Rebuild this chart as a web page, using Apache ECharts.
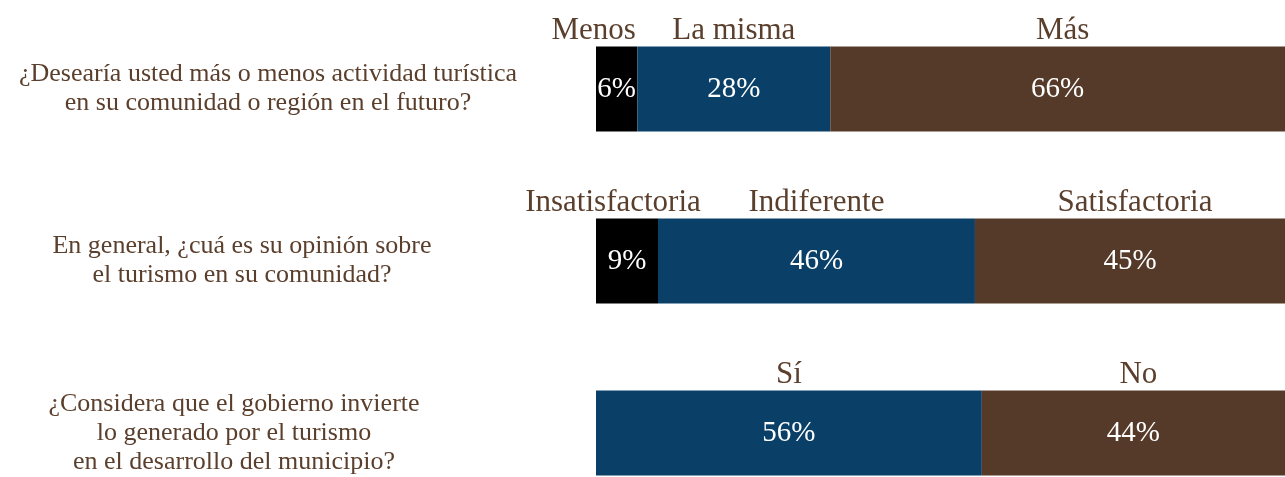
<!DOCTYPE html>
<html>
<head>
<meta charset="utf-8">
<script src="https://cdn.jsdelivr.net/npm/echarts@6/dist/echarts.min.js"></script>
<style>
  html, body { margin: 0; padding: 0; background: #fff; }
  #chart { width: 1285px; height: 477px; }
</style>
</head>
<body>
<div id="chart"></div>
<script>
// preguntas (eje y)
const questions = [
    '¿Desearía usted más o menos actividad turística\nen su comunidad o región en el futuro?',
    'En general, ¿cuá es su opinión sobre\nel turismo en su comunidad?',
    '¿Considera que el gobierno invierte\nlo generado por el turismo\nen el desarrollo del municipio?'
]
// porcentajes por segmento
const seg1 = [6, 9, '-']
const seg2 = [28, 46, 56]
const seg3 = [66, 45, 44]
// rótulos encima de cada segmento
const head1 = ['Menos', 'Insatisfactoria', '']
const head2 = ['La misma', 'Indiferente', 'Sí']
const head3 = ['Más', 'Satisfactoria', 'No']

const font = 'Liberation Serif'
const textColor = '#5b3f2d'
const colors = ['#000000', '#0a4068', '#553a29']

const chart = echarts.init(document.getElementById('chart'))

function barSeries(name, values, color) {
    return {
        name: name,
        type: 'bar',
        stack: 'val',
        barWidth: 85,
        barGap: '-100%',
        data: values,
        itemStyle: { color: color },
        label: {
            show: true,
            position: 'inside',
            color: '#fff',
            fontFamily: font,
            fontSize: 29,
            formatter: (p) => p.value + '%'
        },
        silent: true
    }
}

function headSeries(name, values, heads, offsets) {
    return {
        name: name,
        type: 'bar',
        stack: 'head',
        barWidth: 85,
        barGap: '-100%',
        data: values.map((v, i) => ({
            value: v,
            label: { offset: offsets[i] }
        })),
        itemStyle: { color: 'rgba(0,0,0,0)' },
        label: {
            show: true,
            position: 'top',
            distance: 0,
            color: textColor,
            fontFamily: font,
            fontSize: 31,
            formatter: (p) => heads[p.dataIndex]
        },
        silent: true
    }
}

const option = {
    animation: false,
    grid: {
        left: 596,
        right: 0,
        top: 3,
        height: 516,
        outerBoundsMode: 'none'
    },
    xAxis: {
        type: 'value',
        min: 0,
        max: 100,
        show: false
    },
    yAxis: {
        type: 'category',
        inverse: true,
        data: questions,
        axisLine: { show: false },
        axisTick: { show: false },
        axisLabel: {
            align: 'center',
            margin: 328,
            formatter: (value, idx) => value.split('\n').map(l => '{q' + idx + '|' + l + '}').join('\n'),
            rich: {
                q0: { fontFamily: font, fontSize: 26, color: textColor, lineHeight: 29, padding: [0, 0, 0, 0] },
                q1: { fontFamily: font, fontSize: 26, color: textColor, lineHeight: 29, padding: [0, 52, 0, 0] },
                q2: { fontFamily: font, fontSize: 26, color: textColor, lineHeight: 29, padding: [0, 68, 0, 0] }
            }
        }
    },
    series: [
        barSeries('seg1', seg1, colors[0]),
        barSeries('seg2', seg2, colors[1]),
        barSeries('seg3', seg3, colors[2]),
        headSeries('h1', seg1, head1, [[-23, 0], [-14, 0], [0, 0]]),
        headSeries('h2', seg2, head2, [[0, 0], [0, 0], [0, 0]]),
        headSeries('h3', seg3, head3, [[5, 0], [5, 0], [5, 0]])
    ]
}
chart.setOption(option)
</script>
</body>
</html>
